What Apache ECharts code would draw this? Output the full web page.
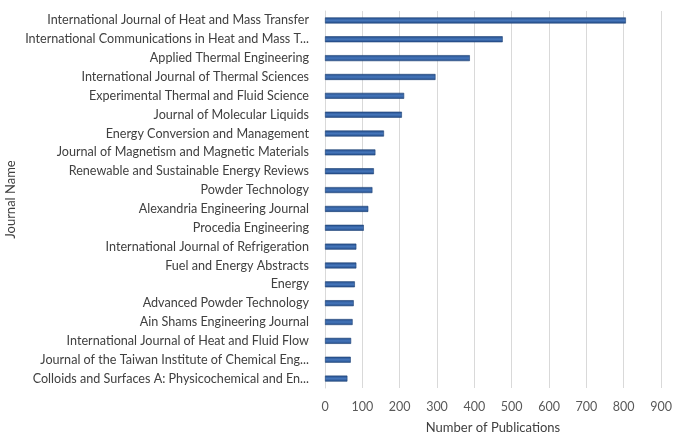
<!DOCTYPE html>
<html>
<head>
<meta charset="utf-8">
<script src="https://cdn.jsdelivr.net/npm/echarts@6/dist/echarts.min.js"></script>
<style>
  html, body { margin: 0; padding: 0; background: #fff; }
  #chart { width: 673px; height: 433px; }
</style>
</head>
<body>
<div id="chart"></div>
<script>
  // journal names, top to bottom
  var journals = [
    'International Journal of Heat and Mass Transfer',
    'International Communications in Heat and Mass T...',
    'Applied Thermal Engineering',
    'International Journal of Thermal Sciences',
    'Experimental Thermal and Fluid Science',
    'Journal of Molecular Liquids',
    'Energy Conversion and Management',
    'Journal of Magnetism and Magnetic Materials',
    'Renewable and Sustainable Energy Reviews',
    'Powder Technology',
    'Alexandria Engineering Journal',
    'Procedia Engineering',
    'International Journal of Refrigeration',
    'Fuel and Energy Abstracts',
    'Energy',
    'Advanced Powder Technology',
    'Ain Shams Engineering Journal',
    'International Journal of Heat and Fluid Flow',
    'Journal of the Taiwan Institute of Chemical Eng...',
    'Colloids and Surfaces A: Physicochemical and En...'
  ];
  // publication counts
  var publications = [806, 476, 388, 296, 212, 206, 158, 135, 131, 127, 116, 104, 84, 84, 80, 77, 74, 70, 69, 60];

  var myChart = echarts.init(document.getElementById('chart'));
  var fontFam = 'Lato, "Liberation Sans", sans-serif';

  myChart.setOption({
    animation: false,
    grid: { left: 325, right: 12, top: 11, bottom: 45, outerBoundsMode: 'none', containLabel: false },
    xAxis: {
      type: 'value',
      min: 0,
      max: 900,
      interval: 100,
      name: 'Number of Publications',
      nameLocation: 'middle',
      nameGap: 33,
      nameTextStyle: { color: '#404040', fontSize: 13, fontFamily: fontFam },
      axisLine: { show: false },
      axisTick: { show: false },
      axisLabel: { color: '#595959', fontSize: 12.5, fontFamily: fontFam, margin: 12 },
      splitLine: { lineStyle: { color: '#d9d9d9', width: 1 } }
    },
    yAxis: {
      type: 'category',
      inverse: true,
      data: journals,
      name: 'Journal Name',
      nameLocation: 'middle',
      nameGap: 308,
      nameRotate: 90,
      nameTextStyle: { color: '#404040', fontSize: 13, fontFamily: fontFam },
      axisLine: { lineStyle: { color: '#d9d9d9' } },
      axisTick: { show: false },
      axisLabel: { color: '#404040', fontSize: 12.6, fontFamily: fontFam, margin: 16 }
    },
    series: [{
      type: 'bar',
      data: publications,
      barWidth: 6,
      itemStyle: {
        color: new echarts.graphic.LinearGradient(0, 0, 0, 1, [
          { offset: 0, color: '#244c88' },
          { offset: 0.5, color: '#4576bb' },
          { offset: 1, color: '#244c88' }
        ]),
        borderColor: '#1d4176',
        borderWidth: 0.6
      }
    }]
  });
</script>
</body>
</html>
